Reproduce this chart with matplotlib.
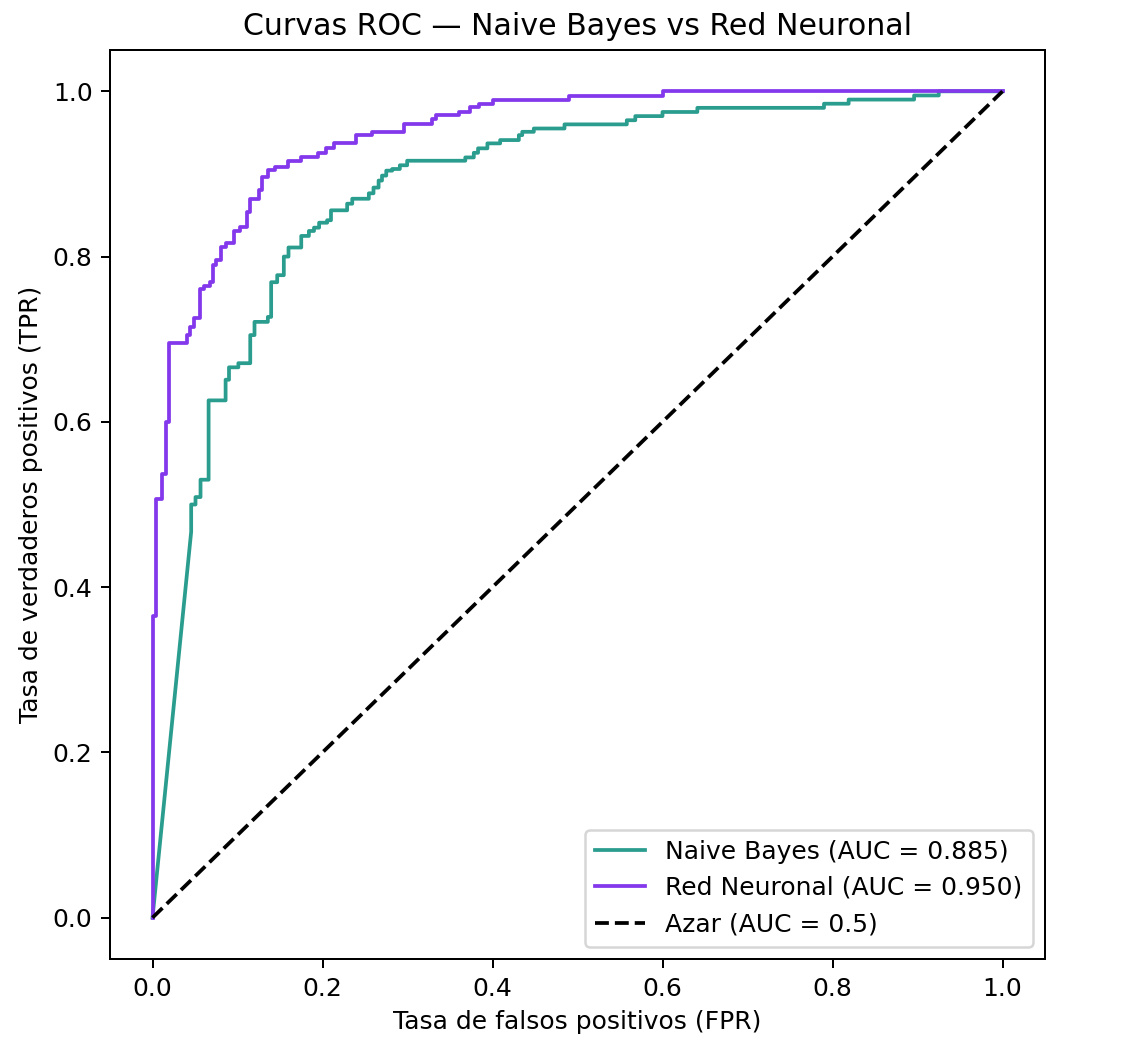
import numpy as np
import matplotlib
matplotlib.use("Agg")
import matplotlib.pyplot as plt

# Naive Bayes: starts with a diagonal (tied scores) then steps
nb_start = [(0.0, 0.0), (0.0455, 0.467)]
nb_fpr = [0.0455, 0.0506, 0.0565, 0.066, 0.086, 0.090, 0.101, 0.115, 0.120, 0.1357,
          0.1396, 0.1467, 0.1545, 0.160, 0.175, 0.184, 0.190, 0.196, 0.2055, 0.210,
          0.229, 0.235, 0.2545, 0.260, 0.266, 0.270, 0.275, 0.282, 0.291, 0.2996,
          0.368, 0.378, 0.383, 0.394, 0.409, 0.431, 0.435, 0.4486, 0.4847, 0.558,
          0.568, 0.600, 0.641, 0.790, 0.819, 0.896, 0.925, 1.0]
nb_tpr = [0.500, 0.509, 0.530, 0.626, 0.651, 0.666, 0.671, 0.705, 0.721, 0.727,
          0.769, 0.7775, 0.800, 0.811, 0.825, 0.831, 0.835, 0.841, 0.844, 0.856,
          0.864, 0.870, 0.8766, 0.8835, 0.892, 0.898, 0.904, 0.906, 0.9105, 0.916,
          0.920, 0.9256, 0.931, 0.937, 0.941, 0.947, 0.951, 0.955, 0.960, 0.965,
          0.970, 0.975, 0.980, 0.985, 0.990, 0.995, 1.0, 1.0]

# Red Neuronal
rn_fpr = [0.0, 0.0044, 0.0114, 0.016, 0.0195, 0.041, 0.0447, 0.049, 0.0557, 0.060,
          0.068, 0.071, 0.075, 0.081, 0.086, 0.0957, 0.1035, 0.1106, 0.115, 0.125,
          0.129, 0.1357, 0.1447, 0.159, 0.175, 0.195, 0.2047, 0.213, 0.239, 0.2585,
          0.296, 0.329, 0.334, 0.360, 0.374, 0.384, 0.400, 0.490, 0.600, 1.0]
rn_tpr = [0.365, 0.507, 0.537, 0.600, 0.695, 0.705, 0.715, 0.726, 0.761, 0.765,
          0.769, 0.790, 0.796, 0.812, 0.816, 0.831, 0.836, 0.854, 0.870, 0.880,
          0.896, 0.905, 0.909, 0.916, 0.920, 0.925, 0.931, 0.937, 0.947, 0.951,
          0.960, 0.967, 0.971, 0.975, 0.981, 0.985, 0.990, 0.994, 1.0, 1.0]

auc_nb = 0.885
auc_rn = 0.950


def steps(start, fpr, tpr):
    # each (fpr, tpr) = jump up to tpr at fpr, then go right
    xs = [p[0] for p in start]
    ys = [p[1] for p in start]
    for f, t in zip(fpr, tpr):
        xs.append(f)
        ys.append(ys[-1])
        xs.append(f)
        ys.append(t)
    return np.array(xs), np.array(ys)


x_nb, y_nb = steps(nb_start, nb_fpr, nb_tpr)
x_rn, y_rn = steps([(0.0, 0.0)], rn_fpr, rn_tpr)

DPI = 180
fig = plt.figure(figsize=(1130 / DPI, 1048 / DPI), dpi=DPI)
ax = fig.add_axes([110 / 1130, 1 - 959 / 1048, 935 / 1130, 909 / 1048])

ax.plot(x_nb, y_nb, color="#2a9d8f", lw=1.5, label=f"Naive Bayes (AUC = {auc_nb:.3f})")
ax.plot(x_rn, y_rn, color="#8338ec", lw=1.5, label=f"Red Neuronal (AUC = {auc_rn:.3f})")
ax.plot([0, 1], [0, 1], "k--", lw=1.5, label="Azar (AUC = 0.5)")

ax.set_title("Curvas ROC — Naive Bayes vs Red Neuronal")
ax.set_xlabel("Tasa de falsos positivos (FPR)")
ax.set_ylabel("Tasa de verdaderos positivos (TPR)")
ax.legend(loc="lower right")

fig.savefig("out.png", dpi=DPI)
